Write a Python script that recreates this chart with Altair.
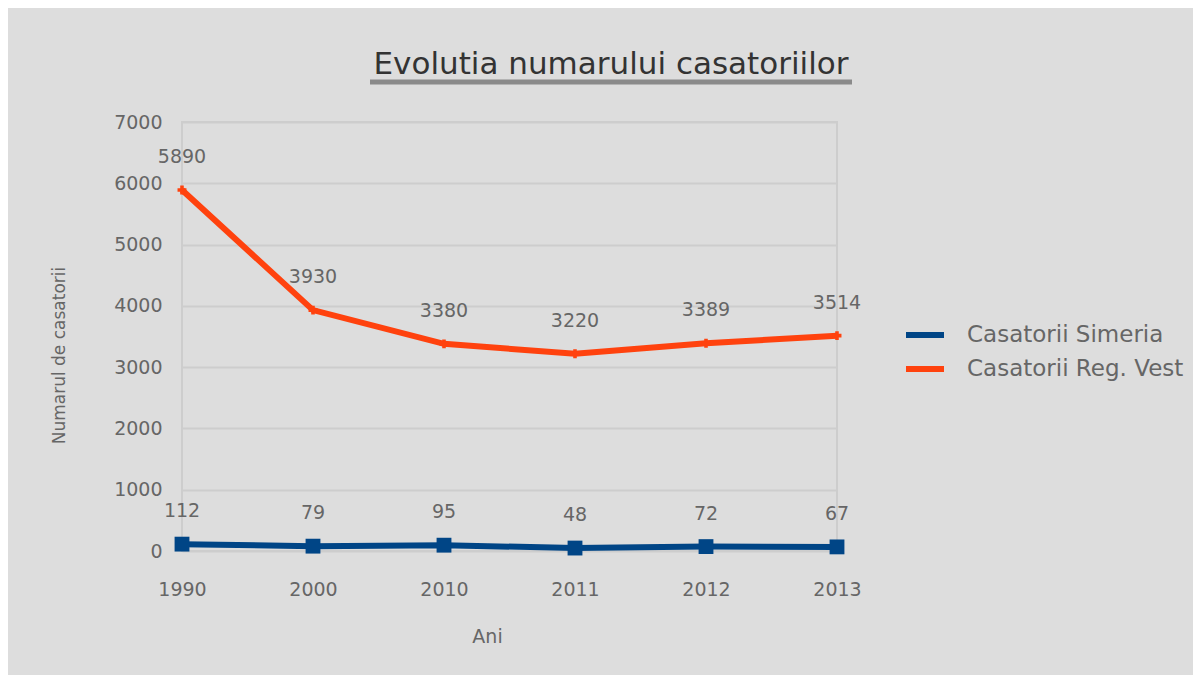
import altair as alt
import pandas as pd

years = ["1990", "2000", "2010", "2011", "2012", "2013"]
simeria = [112, 79, 95, 48, 72, 67]
reg_vest = [5890, 3930, 3380, 3220, 3389, 3514]
series_names = ["Casatorii Simeria", "Casatorii Reg. Vest"]
series_colors = ["#004586", "#ff420e"]
y_ticks = [0, 1000, 2000, 3000, 4000, 5000, 6000, 7000]
chart_title = "Evolutia numarului casatoriilor"

rows = []
for y, v in zip(years, simeria):
    rows.append({"An": y, "Valoare": v, "Serie": series_names[0]})
for y, v in zip(years, reg_vest):
    rows.append({"An": y, "Valoare": v, "Serie": series_names[1]})
df = pd.DataFrame(rows)

FONT = "DejaVu Sans"
LABEL = "#666666"

x_enc = alt.X(
    "An:O",
    scale=alt.Scale(type="point", padding=0, domain=years),
    axis=alt.Axis(
        title="Ani", labelAngle=0, ticks=False, domain=False, grid=False,
        labelPadding=29, labelFontSize=19, labelColor=LABEL, labelFont=FONT,
        titleFontSize=19, titleFontWeight="normal", titleColor=LABEL, titleFont=FONT,
        titleX=305, titleY=85, titleBaseline="middle",
    ),
)
y_enc = alt.Y(
    "Valoare:Q",
    scale=alt.Scale(domain=[0, 7000], nice=False),
    axis=alt.Axis(
        title="Numarul de casatorii", values=y_ticks, format="d", ticks=False, domain=False,
        gridColor="#cdcdcd", gridWidth=2,
        labelPadding=20, labelFontSize=19, labelColor=LABEL, labelFont=FONT,
        titleFontSize=17, titleFontWeight="normal", titleColor=LABEL, titleFont=FONT,
        titleX=-123, titleY=233, titleAngle=270, titleBaseline="middle",
    ),
)
color_enc = alt.Color(
    "Serie:N",
    scale=alt.Scale(domain=series_names, range=series_colors),
    legend=alt.Legend(
        title=None, orient="none", legendX=721, legendY=191,
        symbolType="stroke", symbolStrokeWidth=6, symbolSize=1444,
        labelFontSize=23, labelColor=LABEL, labelFont=FONT, rowPadding=0,
        labelOffset=20, labelLimit=400,
    ),
)

base = alt.Chart(df).encode(x=x_enc, y=y_enc)

lines = base.mark_line(strokeWidth=6).encode(color=color_enc)
pts_sim = base.transform_filter(alt.datum.Serie == series_names[0]).mark_point(
    shape="square", filled=True, size=220, color=series_colors[0], opacity=1
)
pts_vest = base.transform_filter(alt.datum.Serie == series_names[1]).mark_point(
    shape="cross", filled=True, size=80, color=series_colors[1], opacity=1
)
labels = base.mark_text(dy=-33, baseline="middle", fontSize=19, color=LABEL, font=FONT).encode(
    text="Valoare:Q"
)

title_df = pd.DataFrame({"t": [chart_title]})
title_text = alt.Chart(title_df).mark_text(
    fontSize=31, font=FONT, color="#333333", baseline="middle", align="center"
).encode(text="t:N", x=alt.value(429), y=alt.value(-57))
underline = alt.Chart(title_df).mark_rule(
    color="#8a8a8a", strokeWidth=5
).encode(x=alt.value(188), x2=alt.value(670), y=alt.value(-40))

chart = (
    alt.layer(lines, pts_sim, pts_vest, labels, underline, title_text)
    .properties(
        width=655,
        height=429,
        padding={"left": 174, "top": 114, "right": 356, "bottom": 124},
        autosize=alt.AutoSizeParams(type="none"),
        background="#dddddd",
    )
    .configure_view(stroke="#cdcdcd", strokeWidth=2)
)

chart.save("out.html", embed_options={"renderer": "svg", "actions": False})
